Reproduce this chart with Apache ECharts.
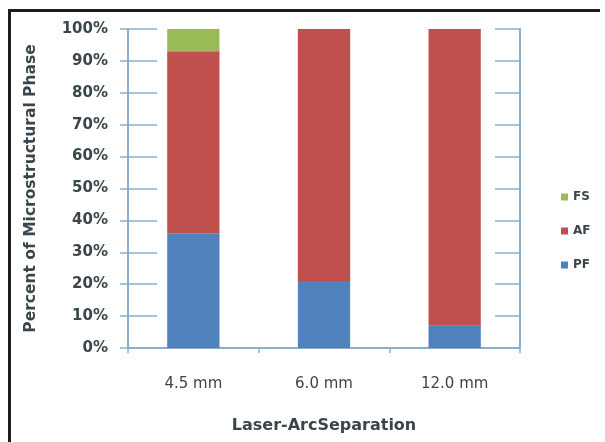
<!DOCTYPE html>
<html>
<head>
<meta charset="utf-8">
<script src="https://cdn.jsdelivr.net/npm/echarts@6/dist/echarts.min.js"></script>
<style>
  html, body { margin: 0; padding: 0; background: #ffffff; overflow: hidden; }
  #chart { width: 605px; height: 442px; }
</style>
</head>
<body>
<div id="chart"></div>
<script>
// Laser-arc separation distances
const categories = ['4.5 mm', '6.0 mm', '12.0 mm'];
// Percent of each microstructural phase
const pfValues = [36, 21, 7];
const afValues = [57, 79, 93];
const fsValues = [7, 0, 0];
// Percent axis ticks
const yTicks = [0, 10, 20, 30, 40, 50, 60, 70, 80, 90, 100];

const axisColor = '#8aaecb';
const textColor = '#3a464c';
const font = 'DejaVu Sans';

const chart = echarts.init(document.getElementById('chart'));

const yBase = {
  type: 'value',
  min: yTicks[0],
  max: yTicks[yTicks.length - 1],
  interval: yTicks[1] - yTicks[0],
  splitLine: { show: false }
};

const frameStyle = { stroke: '#1e1e1e', lineWidth: 3 };

chart.setOption({
  animation: false,
  backgroundColor: '#ffffff',
  textStyle: { fontFamily: font },
  // outer frame: top and left edges only
  graphic: [
    { type: 'line', shape: { x1: 8, y1: 10.5, x2: 600, y2: 10.5 }, style: frameStyle, silent: true },
    { type: 'line', shape: { x1: 9.5, y1: 9, x2: 9.5, y2: 442 }, style: frameStyle, silent: true }
  ],
  grid: { left: 128, right: 85, top: 29, bottom: 94 },
  legend: {
    orient: 'vertical',
    left: 556,
    top: 186,
    itemGap: 22,
    itemWidth: 7,
    itemHeight: 7,
    icon: 'rect',
    data: ['FS', 'AF', 'PF'],
    textStyle: { color: textColor, fontSize: 12, fontWeight: 'bold', fontFamily: font }
  },
  xAxis: [{
    type: 'category',
    data: categories,
    name: 'Laser-ArcSeparation',
    nameLocation: 'middle',
    nameGap: 70,
    nameTextStyle: { color: textColor, fontSize: 16, fontWeight: 'bold', fontFamily: font },
    axisLine: { lineStyle: { color: axisColor, width: 2 } },
    axisTick: { show: true, length: 5, lineStyle: { color: axisColor, width: 1.5 } },
    axisLabel: { color: textColor, fontSize: 15, margin: 29, fontFamily: font }
  }, {
    type: 'category',
    data: categories,
    position: 'top',
    axisLine: { show: true, lineStyle: { color: axisColor, width: 2 } },
    axisTick: { show: false },
    axisLabel: { show: false }
  }],
  yAxis: [
    Object.assign({}, yBase, {
      position: 'left',
      name: 'Percent of Microstructural Phase',
      nameLocation: 'middle',
      nameGap: 89,
      nameTextStyle: { color: textColor, fontSize: 15.5, fontWeight: 'bold', fontFamily: font },
      axisLine: { show: true, lineStyle: { color: axisColor, width: 2 } },
      axisTick: { show: true, length: 8, lineStyle: { color: axisColor, width: 1.5 } },
      axisLabel: { color: textColor, fontSize: 15, fontWeight: 'bold', margin: 20, formatter: '{value}%', fontFamily: font }
    }),
    Object.assign({}, yBase, {
      position: 'left',
      axisLine: { show: false },
      axisTick: { show: true, inside: true, length: 29, lineStyle: { color: axisColor, width: 1.5 } },
      axisLabel: { show: false }
    }),
    Object.assign({}, yBase, {
      position: 'right',
      axisLine: { show: true, lineStyle: { color: axisColor, width: 2 } },
      axisTick: { show: true, inside: true, length: 25, lineStyle: { color: axisColor, width: 1.5 } },
      axisLabel: { show: false }
    })
  ],
  series: [
    { name: 'PF', type: 'bar', stack: 'phase', data: pfValues, barWidth: '40%', itemStyle: { color: '#4f81bd' } },
    { name: 'AF', type: 'bar', stack: 'phase', data: afValues, itemStyle: { color: '#c0504d' } },
    { name: 'FS', type: 'bar', stack: 'phase', data: fsValues, itemStyle: { color: '#9bbb59' } }
  ]
});
</script>
</body>
</html>
